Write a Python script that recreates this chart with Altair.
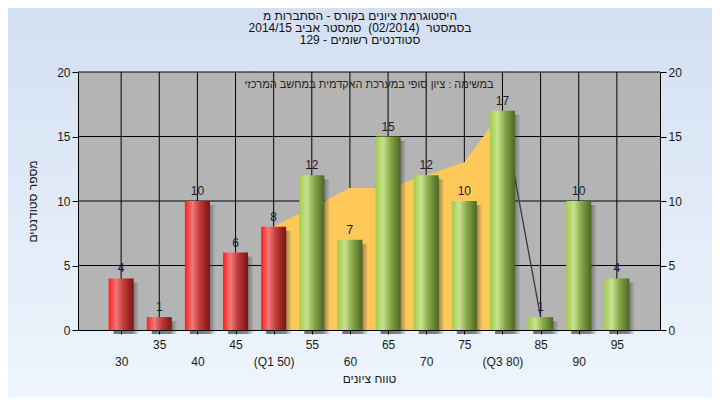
import altair as alt
import pandas as pd

# ---- data ----
bins = [30, 35, 40, 45, 50, 55, 60, 65, 70, 75, 80, 85, 90, 95]
counts = [4, 1, 10, 6, 8, 12, 7, 15, 12, 10, 17, 1, 10, 4]
groups = ["low"] * 5 + ["high"] * 9
iqr_x = [50, 55, 60, 65, 70, 75, 80]
iqr_y = [8, 9.5, 11, 11, 12, 13, 17]
tail_x = [80, 85]
tail_y = [17, 1]
xtick_vals = [30, 35, 40, 45, 50, 55, 60, 65, 70, 75, 80, 85, 90, 95]
xtick_labels = ["30", "35", "40", "45", "(Q1 50)", "55", "60", "65", "70", "75",
                "(Q3 80)", "85", "90", "95"]
ytick_vals = [0, 5, 10, 15, 20]
hgrid_vals = [5, 10, 15, 20]
title_lines = ["היסטוגרמת ציונים בקורס - הסתברות מ",
               "בסמסטר\u00a0 (02/2014)\u00a0 סמסטר אביב 2014/15",
               "סטודנטים רשומים - 129"]
inner_title = "במשימה : ציון סופי במערכת האקדמית במחשב המרכזי"
x_title = "טווח ציונים"
y_title = "מספר סטודנטים"

W, H = 582, 258
PL, PT, PR, PB = 70, 64, 52, 67
FONT = "Liberation Sans"
TXT = "#1a1a1a"

bars = pd.DataFrame({"x": bins, "n": counts, "g": groups})
iqr = pd.DataFrame({"x": iqr_x, "y": iqr_y})
tail = pd.DataFrame({"x": tail_x, "y": tail_y})
vgrid = pd.DataFrame({"x": xtick_vals})
hgrid = pd.DataFrame({"y": hgrid_vals})
one = pd.DataFrame({"a": [0]})

xs = alt.Scale(domain=[25, 100], nice=False, zero=False)
ys = alt.Scale(domain=[0, 20], nice=False, zero=True)

# label expression: even positions go on the second row
parts = []
for i, (v, lab) in enumerate(zip(xtick_vals, xtick_labels)):
    le = f"['', '{lab}']" if i % 2 == 0 else f"'{lab}'"
    parts.append(f"datum.value == {v} ? {le} : ")
label_expr = "".join(parts) + "''"

x_axis = alt.Axis(values=xtick_vals, labelExpr=label_expr, grid=False,
                  tickSize=4, labelPadding=5, labelLineHeight=17,
                  labelOverlap=False, labelFlush=False, labelBaseline="top",
                  title=x_title, titlePadding=6, zindex=1)
y_axis_left = alt.Axis(values=ytick_vals, grid=False, orient="left", tickSize=6,
                       labelPadding=2, title=y_title, titlePadding=17, zindex=1)
y_axis_right = alt.Axis(values=ytick_vals, grid=False, orient="right", tickSize=6,
                        labelPadding=2, title=None, zindex=1)

def grad(stops, vertical=False):
    return alt.Gradient(
        gradient="linear",
        stops=[alt.GradientStop(color=c, offset=o) for o, c in stops],
        x1=0, x2=0 if vertical else 1, y1=0, y2=1 if vertical else 0)

bg = alt.Chart(one).mark_rect(
    color=grad([(0, "#d3e0f2"), (1, "#eef5fd")], vertical=True)
).encode(x=alt.value(-PL), x2=alt.value(W + PR), y=alt.value(-PT), y2=alt.value(H + PB))

plotbg = alt.Chart(one).mark_rect(color="#b4b4b4").encode(
    x=alt.value(0), x2=alt.value(W), y=alt.value(0), y2=alt.value(H))

vlines = alt.Chart(vgrid).mark_rule(color="#000000", strokeWidth=1).encode(
    x=alt.X("x:Q", scale=xs, axis=x_axis))
hlines = alt.Chart(hgrid).mark_rule(color="#000000", strokeWidth=1).encode(
    y=alt.Y("y:Q", scale=ys, axis=y_axis_right))

area = alt.Chart(iqr).mark_area(color="#ffc95a", opacity=1).encode(
    x=alt.X("x:Q", scale=xs, axis=None), y=alt.Y("y:Q", scale=ys, axis=None))
tail_line = alt.Chart(tail).mark_line(color="#3a3a3a", strokeWidth=1.3).encode(
    x=alt.X("x:Q", scale=xs, axis=None), y=alt.Y("y:Q", scale=ys, axis=None))

shadow = alt.Chart(bars).mark_bar(
    width=25, xOffset=5, yOffset=4,
    color=grad([(0, "rgba(30,30,30,0.6)"), (0.75, "rgba(40,40,40,0.55)"),
                (1, "rgba(90,90,90,0.12)")])
).encode(x=alt.X("x:Q", scale=xs, axis=None), y=alt.Y("n:Q", scale=ys, axis=None))

red_bars = alt.Chart(bars).transform_filter(alt.datum.g == "low").mark_bar(
    width=25,
    color=grad([(0, "#ff1c1c"), (0.3, "#f27a7a"), (0.6, "#c03838"), (1, "#7a1414")])
).encode(x=alt.X("x:Q", scale=xs, axis=None), y=alt.Y("n:Q", scale=ys, axis=y_axis_left))

green_bars = alt.Chart(bars).transform_filter(alt.datum.g == "high").mark_bar(
    width=25,
    color=grad([(0, "#a3cc48"), (0.3, "#c8e290"), (0.6, "#86a848"), (1, "#4c6624")])
).encode(x=alt.X("x:Q", scale=xs, axis=None), y=alt.Y("n:Q", scale=ys, axis=None))

labels = alt.Chart(bars).mark_text(
    font=FONT, fontSize=12, color="#1a1a2e", baseline="bottom", dy=-3
).encode(x=alt.X("x:Q", scale=xs, axis=None), y=alt.Y("n:Q", scale=ys, axis=None),
         text="n:Q")

inner = alt.Chart(one).mark_text(
    font=FONT, fontSize=11, color="#2a2418", text=inner_title, baseline="middle"
).encode(x=alt.value(W / 2), y=alt.value(13))

title = alt.Chart(one).mark_text(
    font=FONT, fontSize=12, color="#111111", text=title_lines, baseline="top",
    lineHeight=12
).encode(x=alt.value(W / 2 - 9), y=alt.value(-61))

chart = alt.layer(
    bg, plotbg, vlines, hlines, area, tail_line, shadow, red_bars, green_bars,
    labels, inner, title
).resolve_axis(x="independent", y="independent").properties(
    width=W, height=H,
    autosize=alt.AutoSizeParams(type="none"),
    padding={"left": PL, "top": PT, "right": PR, "bottom": PB},
).configure_view(stroke=None).configure_axis(
    domainColor="#000000", tickColor="#000000", labelColor=TXT, labelFont=FONT,
    labelFontSize=12, titleFont=FONT, titleFontSize=12, titleFontWeight="normal",
    titleColor=TXT, domainWidth=1
)

chart.save("out.html", embed_options={"renderer": "svg", "actions": False})
